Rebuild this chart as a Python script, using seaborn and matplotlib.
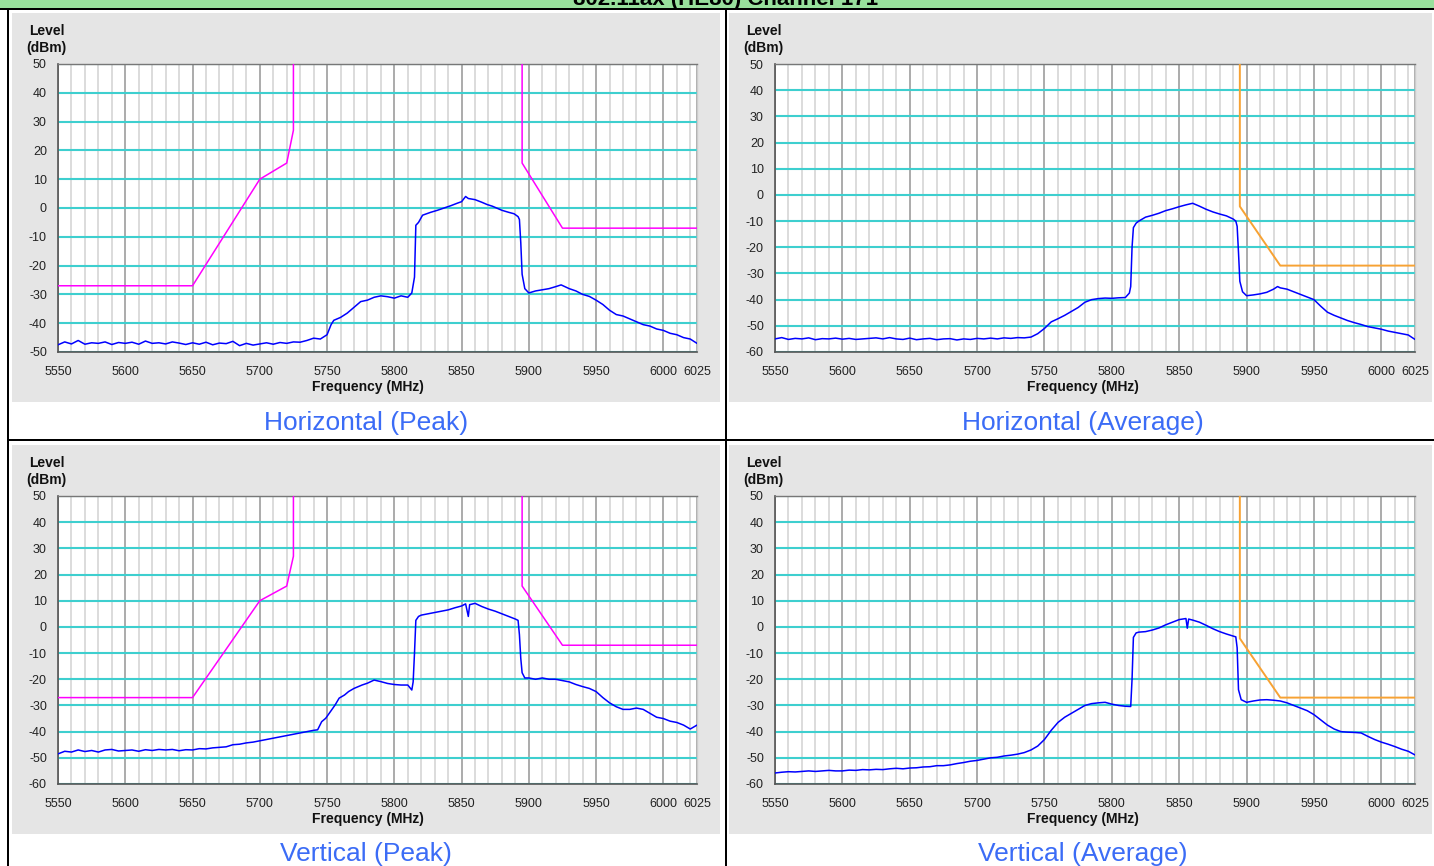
import matplotlib
matplotlib.use("Agg")
import matplotlib.pyplot as plt
from matplotlib.patches import Rectangle
from matplotlib.ticker import MultipleLocator, FixedLocator
import seaborn as sns
import pandas as pd

sns.set_style("white")
plt.rcParams['font.family'] = ['Liberation Sans', 'DejaVu Sans']
plt.rcParams['axes.unicode_minus'] = False

# ---------------- data ----------------
title_text = "802.11ax (HE80) Channel 171"
captions = ["Horizontal (Peak)", "Horizontal (Average)", "Vertical (Peak)", "Vertical (Average)"]
x_ticks = [5550, 5600, 5650, 5700, 5750, 5800, 5850, 5900, 5950, 6000, 6025]

peak_mask_low_f = [5550, 5650, 5700, 5720, 5725, 5725]
peak_mask_low_v = [-27, -27, 10, 15.6, 27, 50]
peak_mask_high_f = [5895, 5895, 5925, 6025]
peak_mask_high_v = [50, 15.6, -7, -7]
avg_mask_f = [5895, 5895, 5925, 6025]
avg_mask_v = [50, -4.4, -27, -27]

hp_f = [5550, 5555, 5560, 5565, 5570, 5575, 5580, 5585, 5590, 5595, 5600, 5605, 5610, 5615, 5620,
        5625, 5630, 5635, 5640, 5645, 5650, 5655, 5660, 5665, 5670, 5675, 5680, 5685, 5690, 5695,
        5700, 5705, 5710, 5715, 5720, 5725, 5730, 5735, 5740, 5745, 5750, 5753, 5755, 5760, 5765,
        5770, 5775, 5780, 5785, 5790, 5795, 5800, 5805, 5810, 5813, 5815, 5816, 5818, 5821, 5827,
        5832, 5837, 5842, 5847, 5850, 5853, 5855, 5860, 5865, 5869, 5873, 5876, 5880, 5885, 5889,
        5892, 5893, 5894, 5895, 5897, 5900, 5905, 5910, 5915, 5920, 5924, 5930, 5935, 5940, 5945,
        5950, 5955, 5960, 5965, 5970, 5975, 5980, 5985, 5990, 5995, 6000, 6005, 6010, 6015, 6020,
        6025]
hp_v = [-47.5, -46.5, -47.2, -46.0, -47.3, -46.8, -47.0, -46.5, -47.4, -46.7, -47.0, -46.6, -47.3, -46.2, -47.0,
        -46.8, -47.2, -46.5, -46.9, -47.4, -46.8, -47.3, -46.6, -47.5, -46.9, -47.1, -46.3, -47.8, -47.0, -47.6,
        -47.2, -46.8, -47.3, -46.7, -47.0, -46.5, -46.6, -46.0, -45.2, -45.5, -44.0, -40.5, -39.0, -38.0, -36.5,
        -34.5, -32.5, -32.0, -31.0, -30.5, -30.8, -31.3, -30.5, -31.0, -29.5, -24.0, -6.0, -5.0, -2.5, -1.5,
        -0.8, 0.0, 0.8, 1.7, 2.2, 4.0, 3.3, 2.9, 2.0, 1.2, 0.6, 0.0, -0.8, -1.5, -2.0,
        -3.0, -4.0, -12.0, -23.0, -28.0, -29.5, -28.8, -28.4, -28.0, -27.3, -26.7, -28.0, -28.8, -30.0, -30.7,
        -32.0, -33.5, -35.5, -37.0, -37.5, -38.5, -39.5, -40.5, -41.0, -42.0, -42.5, -43.5, -44.0, -45.0, -45.5,
        -47.0]

ha_f = [5550, 5555, 5560, 5565, 5570, 5575, 5580, 5585, 5590, 5595, 5600, 5605, 5610, 5615, 5620,
        5625, 5630, 5635, 5640, 5645, 5650, 5655, 5660, 5665, 5670, 5675, 5680, 5685, 5690, 5695,
        5700, 5705, 5710, 5715, 5720, 5725, 5730, 5735, 5740, 5745, 5750, 5755, 5760, 5765, 5770,
        5775, 5780, 5785, 5790, 5795, 5800, 5805, 5810, 5813, 5814, 5815, 5816, 5818, 5820, 5825,
        5830, 5835, 5840, 5845, 5850, 5855, 5860, 5865, 5870, 5875, 5880, 5885, 5890, 5892, 5893,
        5894, 5895, 5897, 5900, 5905, 5910, 5915, 5920, 5923, 5925, 5930, 5935, 5940, 5945, 5950,
        5955, 5960, 5965, 5970, 5975, 5980, 5985, 5990, 5995, 6000, 6005, 6010, 6015, 6020, 6025]
ha_v = [-55.0, -54.5, -55.2, -54.8, -55.0, -54.6, -55.3, -54.9, -55.0, -54.7, -55.1, -54.8, -55.2, -55.0, -54.8,
        -54.6, -55.0, -54.5, -55.0, -55.2, -54.7, -55.3, -55.0, -54.8, -55.3, -55.0, -54.9, -55.4, -55.0, -55.2,
        -54.8, -55.0, -54.7, -55.0, -54.6, -54.8, -54.5, -54.6, -54.3, -53.0, -51.0, -48.5, -47.3, -46.0, -44.5,
        -43.0, -41.0, -40.0, -39.6, -39.4, -39.5, -39.3, -39.2, -37.5, -35.0, -20.0, -12.5, -10.8, -10.0, -8.5,
        -7.8, -7.0, -6.0, -5.3, -4.5, -3.8, -3.2, -4.3, -5.5, -6.5, -7.3, -8.0, -9.2, -10.0, -12.0,
        -22.0, -33.0, -37.0, -38.5, -38.2, -37.8, -37.2, -36.0, -35.0, -35.5, -36.0, -37.0, -38.0, -39.0, -40.0,
        -42.5, -44.8, -46.0, -47.0, -48.0, -48.8, -49.5, -50.3, -50.8, -51.3, -52.0, -52.5, -53.0, -53.5, -55.2]

vp_f = [5550, 5555, 5560, 5565, 5570, 5575, 5580, 5585, 5590, 5595, 5600, 5605, 5610, 5615, 5620,
        5625, 5630, 5635, 5640, 5645, 5650, 5655, 5660, 5665, 5670, 5675, 5680, 5685, 5690, 5695,
        5700, 5705, 5710, 5715, 5720, 5725, 5730, 5735, 5740, 5743, 5746, 5749, 5753, 5756, 5759,
        5763, 5766, 5770, 5776, 5780, 5785, 5790, 5795, 5800, 5805, 5810, 5813, 5814, 5815, 5816,
        5818, 5820, 5825, 5830, 5835, 5840, 5845, 5850, 5853, 5855, 5856, 5860, 5865, 5870, 5875,
        5880, 5885, 5890, 5892, 5893, 5894, 5895, 5897, 5900, 5905, 5910, 5915, 5920, 5925, 5930,
        5935, 5940, 5945, 5950, 5955, 5960, 5965, 5970, 5975, 5980, 5985, 5990, 5995, 6000, 6005,
        6010, 6015, 6020, 6025]
vp_v = [-48.5, -47.5, -47.8, -47.0, -47.6, -47.2, -47.8, -47.0, -46.8, -47.4, -47.2, -47.0, -47.5, -46.9, -47.2,
        -46.8, -47.0, -46.8, -47.3, -46.9, -47.0, -46.5, -46.6, -46.2, -46.0, -45.8, -45.0, -44.8, -44.3, -44.0,
        -43.5, -43.0, -42.5, -42.0, -41.5, -41.0, -40.5, -40.0, -39.5, -39.3, -36.2, -34.9, -32.0, -29.8, -27.2,
        -26.0, -24.7, -23.5, -22.2, -21.5, -20.3, -20.9, -21.6, -22.0, -22.2, -22.2, -24.1, -21.0, -10.0, 2.5,
        4.0, 4.5, 5.0, 5.5, 6.0, 6.5, 7.3, 8.0, 8.8, 4.0, 8.5, 9.0, 7.8, 6.8, 6.0,
        5.0, 4.0, 3.0, 2.5, -3.0, -12.0, -17.5, -19.5, -19.5, -20.0, -19.5, -20.0, -20.0, -20.5, -21.0,
        -22.0, -22.8, -23.5, -24.7, -27.0, -29.0, -30.5, -31.5, -31.5, -31.0, -31.5, -33.0, -34.5, -35.0, -36.0,
        -36.5, -37.5, -39.0, -37.5]

va_f = [5550, 5555, 5560, 5565, 5570, 5575, 5580, 5585, 5590, 5595, 5600, 5605, 5610, 5615, 5620,
        5625, 5630, 5635, 5640, 5645, 5650, 5655, 5660, 5665, 5670, 5675, 5680, 5685, 5690, 5695,
        5700, 5705, 5710, 5715, 5720, 5725, 5730, 5735, 5740, 5745, 5750, 5755, 5760, 5765, 5770,
        5775, 5780, 5785, 5790, 5795, 5800, 5805, 5810, 5814, 5815, 5816, 5818, 5820, 5825, 5830,
        5835, 5840, 5845, 5850, 5855, 5856, 5857, 5860, 5865, 5870, 5875, 5880, 5885, 5890, 5892,
        5893, 5894, 5896, 5900, 5905, 5910, 5915, 5920, 5925, 5930, 5935, 5940, 5945, 5950, 5955,
        5960, 5965, 5970, 5975, 5980, 5985, 5990, 5995, 6000, 6005, 6010, 6015, 6020, 6025]
va_v = [-55.8, -55.5, -55.3, -55.4, -55.2, -55.0, -55.2, -55.0, -54.8, -55.0, -55.0, -54.7, -54.8, -54.5, -54.6,
        -54.4, -54.5, -54.2, -54.0, -54.2, -53.9, -53.8, -53.5, -53.4, -53.0, -53.0, -52.7, -52.2, -51.8, -51.3,
        -51.0, -50.5, -50.0, -49.8, -49.3, -49.0, -48.6, -48.0, -47.0, -45.5, -43.0, -39.5, -36.5, -34.5, -33.0,
        -31.5, -30.0, -29.3, -29.0, -28.8, -29.5, -30.0, -30.3, -30.4, -20.0, -4.0, -2.3, -2.0, -1.8, -1.2,
        -0.4, 0.8, 1.8, 2.8, 3.2, -0.5, 3.0, 2.6, 1.8, 0.6, -0.7, -1.8, -2.7, -3.5, -3.8,
        -8.0, -24.0, -27.8, -28.8, -28.3, -27.9, -27.8, -28.0, -28.3, -29.0, -30.0, -31.0, -32.0, -33.5, -35.5,
        -37.5, -39.0, -40.0, -40.2, -40.3, -40.5, -41.8, -43.0, -44.0, -44.8, -45.7, -46.7, -47.5, -48.9]

# ---------------- layout ----------------
W, H = 1434, 866
fig = plt.figure(figsize=(W / 100, H / 100), dpi=100)
fig.patch.set_facecolor('white')


def fx(x):
    return x / W


def fy(y):
    return 1 - y / H


def rect_px(x0, y0, x1, y1, **kw):
    fig.add_artist(Rectangle((fx(x0), fy(y1)), (x1 - x0) / W, (y1 - y0) / H,
                             transform=fig.transFigure, linewidth=0, **kw))


GRAY = "#E5E5E5"
CYAN = "#3ECFCF"
BLUE_TXT = "#3B6CF6"

# header (title mostly above the visible area, as in the reference)
rect_px(0, 0, W, 8, facecolor="#98E09C", zorder=0)
fig.text(fx(726), fy(4.5), title_text, ha='center', va='baseline', fontsize=16,
         fontweight='bold', color='black', zorder=1)
rect_px(0, 7.5, W, 9.5, facecolor='black', zorder=2)
# table borders
rect_px(7, 8, 9, H, facecolor='black', zorder=2)
rect_px(724.5, 8, 726.5, H, facecolor='black', zorder=2)
rect_px(7, 439, W, 441, facecolor='black', zorder=2)

panels = [
    dict(gray=(12, 13, 720, 402), ax=(58, 64, 697, 352), ylim=(-50, 50), cap_y=423, cell_cx=366,
         f=hp_f, v=hp_v, kind='peak'),
    dict(gray=(729, 13, 1432, 402), ax=(775, 64, 1415, 352), ylim=(-60, 50), cap_y=423, cell_cx=1083,
         f=ha_f, v=ha_v, kind='avg'),
    dict(gray=(12, 445, 720, 834), ax=(58, 496, 697, 784), ylim=(-60, 50), cap_y=854, cell_cx=366,
         f=vp_f, v=vp_v, kind='peak'),
    dict(gray=(729, 445, 1432, 834), ax=(775, 496, 1415, 784), ylim=(-60, 50), cap_y=854, cell_cx=1083,
         f=va_f, v=va_v, kind='avg'),
]

for p, cap in zip(panels, captions):
    gx0, gy0, gx1, gy1 = p['gray']
    rect_px(gx0, gy0, gx1, gy1, facecolor=GRAY, zorder=0)
    l, t, r, b = p['ax']
    ax = fig.add_axes([fx(l), fy(b), (r - l) / W, (b - t) / H])
    ax.set_facecolor('white')
    ax.set_axisbelow(True)

    trace = pd.DataFrame({'freq': p['f'], 'level': p['v']})
    sns.lineplot(data=trace, x='freq', y='level', ax=ax, color='#0000FF', linewidth=1.1,
                 estimator=None, sort=False, legend=False, zorder=5)
    if p['kind'] == 'peak':
        m1 = pd.DataFrame({'freq': peak_mask_low_f, 'level': peak_mask_low_v})
        m2 = pd.DataFrame({'freq': peak_mask_high_f, 'level': peak_mask_high_v})
        for m in (m1, m2):
            sns.lineplot(data=m, x='freq', y='level', ax=ax, color='#FF00FF', linewidth=1.1,
                         estimator=None, sort=False, legend=False, zorder=4)
    else:
        m = pd.DataFrame({'freq': avg_mask_f, 'level': avg_mask_v})
        sns.lineplot(data=m, x='freq', y='level', ax=ax, color='#F7A233', linewidth=1.4,
                     estimator=None, sort=False, legend=False, zorder=4)

    ax.set_xlim(5550, 6025)
    ax.set_ylim(*p['ylim'])
    ax.xaxis.set_major_locator(FixedLocator(x_ticks))
    ax.xaxis.set_minor_locator(MultipleLocator(10))
    ax.set_xticklabels([str(v) for v in x_ticks])
    yt = list(range(p['ylim'][0], p['ylim'][1] + 1, 10))
    ax.set_yticks(yt)
    ax.set_yticklabels([str(v) for v in yt])
    ax.grid(which='minor', axis='x', color='#DCDCDC', linewidth=1.4)
    ax.grid(which='major', axis='x', color='#ABABAB', linewidth=1.4)
    ax.grid(which='major', axis='y', color=CYAN, linewidth=1.5)
    ax.tick_params(which='major', direction='out', length=6, width=1.0, color='#333333',
                   labelsize=9, labelcolor='#222222', pad=2)
    ax.tick_params(axis='x', which='major', length=5, pad=5)
    ax.tick_params(which='minor', length=0)
    ax.set_xlabel('')
    ax.set_ylabel('')
    for side in ('left', 'bottom'):
        ax.spines[side].set_color('#555555')
        ax.spines[side].set_linewidth(1.2)
    ax.spines['top'].set_color('#777777')
    ax.spines['top'].set_linewidth(1.0)
    ax.spines['right'].set_color('#CCCCCC')
    ax.spines['right'].set_linewidth(1.0)

    # axis titles
    fig.text(fx(gx0 + 17), fy(t - 33), "Level", ha='left', va='center', fontsize=10,
             fontweight='bold', color='#111111')
    fig.text(fx(gx0 + 14), fy(t - 16), "(dBm)", ha='left', va='center', fontsize=10,
             fontweight='bold', color='#111111')
    fig.text(fx((gx0 + gx1) / 2 + 2), fy(b + 35), "Frequency (MHz)", ha='center', va='center',
             fontsize=10, fontweight='bold', color='#111111')
    fig.text(fx(p['cell_cx']), fy(p['cap_y']), cap, ha='center', va='center', fontsize=19,
             color=BLUE_TXT)

fig.savefig("out.png", dpi=100, facecolor='white')
